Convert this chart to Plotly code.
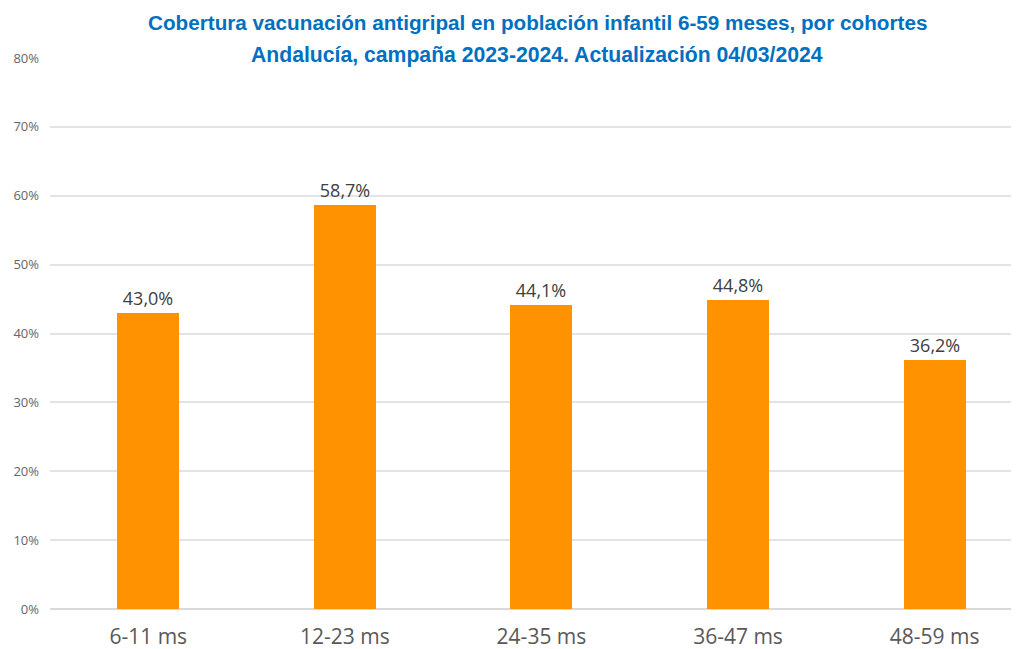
import plotly.graph_objects as go

categories = ["6-11 ms", "12-23 ms", "24-35 ms", "36-47 ms", "48-59 ms"]
values = [0.430, 0.587, 0.441, 0.448, 0.362]
labels = ["43,0%", "58,7%", "44,1%", "44,8%", "36,2%"]
y_ticks = [0, 0.1, 0.2, 0.3, 0.4, 0.5, 0.6, 0.7, 0.8]
y_tick_text = ["0%", "10%", "20%", "30%", "40%", "50%", "60%", "70%", "80%"]
title_lines = [
    "Cobertura vacunación antigripal en población infantil 6-59 meses, por cohortes",
    "Andalucía, campaña 2023-2024. Actualización 04/03/2024",
]

# page body has an 8px offset; layout below compensates for it
L, T, B = 42, 50, 48
PW, PH = 1019 - L, 649 - T - B

fig = go.Figure(go.Bar(
    x=categories, y=values, text=labels, textposition="outside",
    textfont=dict(size=18, color="#404040", family="Open Sans, sans-serif"),
    marker=dict(color="#FF9200", line=dict(width=0)),
    width=0.315, cliponaxis=False,
))

title_font = dict(size=21, color="#0070C0",
                  family="Liberation Sans Narrow, Arial Narrow, sans-serif", weight="bold")
for line, ypx, xw in zip(title_lines, [14, 47], [20.7, 21.2]):
    fig.add_annotation(
        text=line, xref="paper", yref="paper",
        x=(529 - L) / PW, xanchor="center",
        y=1 + (T - ypx) / PH, yanchor="middle",
        showarrow=False, font=dict(title_font, size=xw),
    )

fig.update_layout(
    width=1019, height=649,
    margin=dict(l=L, r=0, t=T, b=B, autoexpand=False),
    paper_bgcolor="white", plot_bgcolor="white",
    showlegend=False,
    xaxis=dict(
        type="category", range=[-0.5, 4.47], automargin=False,
        tickfont=dict(size=21, color="#595959", family="Open Sans, sans-serif"),
        showgrid=False, showline=False, ticks="", ticklabelstandoff=13,
    ),
    yaxis=dict(
        range=[0, 0.8], tickvals=y_ticks, ticktext=y_tick_text, automargin=False,
        tickfont=dict(size=13, color="#666666", family="Open Sans, sans-serif"),
        showgrid=True, gridcolor="#E3E3E3", gridwidth=1.5,
        zeroline=True, zerolinecolor="#D9D9D9", zerolinewidth=1.5,
        showline=False, ticks="", ticklen=0, ticklabelstandoff=10,
    ),
    bargap=0,
)

fig.write_html("out.html")
